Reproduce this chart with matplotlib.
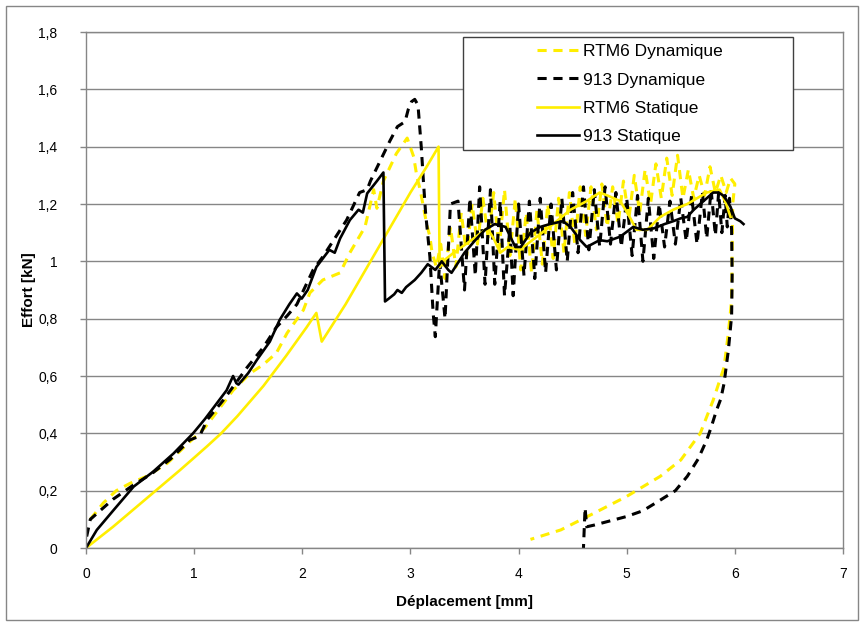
import matplotlib
matplotlib.use("Agg")
import matplotlib.pyplot as plt
from matplotlib.patches import Rectangle

# RTM6 Dynamique (yellow dashed): loading, plateau, unloading
rtm6_dyn_x = [0.04, 0.16, 0.28, 0.41, 0.56, 0.75, 0.93, 1.1, 1.36, 1.52, 1.64, 1.76, 1.86, 2.01, 2.07,
              2.19, 2.35, 2.44, 2.58, 2.66, 2.69, 2.75, 2.87, 2.97, 3.03, 3.06, 3.09, 3.15, 3.18,
              3.20, 3.24, 3.28, 3.32, 3.37, 3.42, 3.47, 3.52, 3.57, 3.62, 3.67, 3.72, 3.77, 3.82,
              3.87, 3.92, 3.97, 4.02, 4.07, 4.12, 4.17, 4.22, 4.27, 4.32, 4.37, 4.42, 4.47, 4.52,
              4.57, 4.62, 4.67, 4.72, 4.77, 4.82, 4.87, 4.92, 4.97, 5.02, 5.07, 5.12, 5.17, 5.22,
              5.27, 5.32, 5.37, 5.42, 5.47, 5.52, 5.57, 5.62, 5.67, 5.72, 5.77, 5.82, 5.87, 5.92,
              5.96, 6.0,
              5.98, 5.97, 5.94, 5.9, 5.8, 5.68, 5.5, 5.31, 5.0, 4.69, 4.39, 4.11]
rtm6_dyn_y = [0.10, 0.157, 0.2, 0.226, 0.25, 0.295, 0.36, 0.42, 0.55, 0.61, 0.64, 0.68, 0.75, 0.83, 0.89,
              0.935, 0.96, 1.03, 1.12, 1.25, 1.185, 1.28, 1.376, 1.43, 1.365, 1.295, 1.25, 1.13, 1.086,
              1.03, 0.98, 1.06, 0.94, 1.12, 0.98, 1.17, 1.02, 1.2, 1.06, 1.22, 1.08, 1.24, 1.04,
              1.25, 1.02, 1.22, 0.97, 1.17, 0.96, 1.18, 0.99, 1.2, 1.01, 1.22, 1.03, 1.24, 1.06,
              1.26, 1.09, 1.26, 1.11, 1.27, 1.12, 1.26, 1.13, 1.28, 1.15, 1.30, 1.17, 1.32, 1.20,
              1.34, 1.22, 1.36, 1.23, 1.37, 1.22, 1.32, 1.22, 1.30, 1.23, 1.33, 1.24, 1.30, 1.24,
              1.29, 1.27,
              1.2, 0.865, 0.75, 0.63, 0.516, 0.40, 0.307, 0.25, 0.18, 0.12, 0.063, 0.03]

# 913 Dynamique (black dashed)
d913_dyn_x = [0.006, 0.04, 0.25, 0.44, 0.61, 0.78, 0.96, 1.05, 1.12, 1.27, 1.49, 1.64, 1.76, 1.86, 1.95,
              2.1, 2.19, 2.29, 2.41, 2.53, 2.6, 2.63, 2.72, 2.81, 2.88, 2.95, 2.98, 3.01, 3.04, 3.07,
              3.1, 3.12, 3.14, 3.18, 3.21, 3.23,
              3.27, 3.32, 3.37, 3.44, 3.5, 3.55, 3.6, 3.64, 3.69, 3.74, 3.78, 3.83, 3.87, 3.92,
              3.95, 4.0, 4.05, 4.1, 4.15, 4.2, 4.25, 4.3, 4.35, 4.4, 4.45, 4.5, 4.55, 4.6, 4.65,
              4.7, 4.75, 4.8, 4.85, 4.9, 4.95, 5.0, 5.05, 5.1, 5.15, 5.2, 5.25, 5.3, 5.35, 5.4,
              5.45, 5.5, 5.55, 5.6, 5.65, 5.7, 5.74, 5.78, 5.82, 5.85, 5.88, 5.91, 5.93, 5.95, 5.97,
              5.975, 5.97, 5.94, 5.9, 5.87, 5.83, 5.78, 5.74, 5.66, 5.56, 5.45, 5.31, 5.15, 5.0,
              4.85, 4.7, 4.63, 4.615, 4.6]
d913_dyn_y = [0.04, 0.1, 0.17, 0.22, 0.26, 0.31, 0.377, 0.39, 0.447, 0.516, 0.63, 0.70, 0.77, 0.81, 0.85,
              0.97, 1.016, 1.074, 1.144, 1.24, 1.25, 1.28, 1.35, 1.42, 1.47, 1.487, 1.53, 1.557, 1.565, 1.545,
              1.4, 1.28, 1.17, 1.016, 0.82, 0.737,
              1.0, 0.80, 1.2, 1.21, 0.90, 1.22, 0.95, 1.26, 0.92, 1.25, 0.92, 1.21, 0.88, 1.12,
              0.88, 1.2, 0.95, 1.21, 0.94, 1.22, 0.96, 1.2, 0.97, 1.22, 1.0, 1.24, 1.03, 1.26, 1.04,
              1.25, 1.05, 1.26, 1.06, 1.24, 1.05, 1.22, 1.02, 1.23, 1.0, 1.22, 1.01, 1.2, 1.05, 1.21,
              1.06, 1.22, 1.07, 1.23, 1.06, 1.24, 1.08, 1.25, 1.09, 1.24, 1.1, 1.23, 1.12, 1.22, 1.11,
              0.95, 0.81, 0.69, 0.574, 0.52, 0.48, 0.42, 0.377, 0.31, 0.25, 0.2, 0.167, 0.13, 0.11,
              0.095, 0.08, 0.074, 0.14, 0.0]

# RTM6 Statique (yellow solid)
rtm6_sta_x = [0, 0.25, 0.56, 0.87, 1.0, 1.12, 1.25, 1.4, 1.64, 1.85, 2.04, 2.13, 2.18, 2.4, 2.6, 2.8, 3.0, 3.15, 3.26,
              3.27, 3.3, 3.4, 3.55, 3.71, 3.77, 3.83, 3.9, 4.01, 4.17, 4.32, 4.48, 4.63, 4.75, 4.82, 4.94,
              5.02, 5.09, 5.19, 5.31, 5.43, 5.56, 5.65, 5.74, 5.86, 5.92, 5.96]
rtm6_sta_y = [0, 0.074, 0.173, 0.272, 0.315, 0.355, 0.40, 0.46, 0.565, 0.67, 0.77, 0.82, 0.72, 0.85, 0.98, 1.11, 1.24, 1.33, 1.40,
              0.98, 1.0, 1.03, 1.07, 1.115, 1.08, 1.03, 1.05, 1.04, 1.086, 1.13, 1.18, 1.21, 1.24, 1.23, 1.21,
              1.16, 1.11, 1.11, 1.155, 1.18, 1.2, 1.22, 1.24, 1.25, 1.2, 1.155]

# 913 Statique (black solid)
d913_sta_x = [0, 0.1, 0.25, 0.44, 0.62, 0.81, 0.99, 1.1, 1.2, 1.3, 1.36, 1.39, 1.41, 1.5, 1.58, 1.7, 1.79,
              1.88, 1.95, 1.995, 2.05, 2.13, 2.25, 2.3, 2.35, 2.44, 2.52, 2.56, 2.6, 2.69, 2.75,
              2.765, 2.8, 2.85, 2.88, 2.92, 2.96, 3.04, 3.1, 3.16, 3.23, 3.29, 3.35, 3.38, 3.5, 3.6,
              3.69, 3.78, 3.88, 3.97, 4.02, 4.11, 4.2, 4.29, 4.41, 4.48, 4.57, 4.63, 4.75, 4.82, 4.94,
              5.06, 5.15, 5.25, 5.35, 5.43, 5.5, 5.56, 5.62, 5.68, 5.74, 5.8, 5.85, 5.89, 5.93, 5.96,
              6.0, 6.05, 6.08]
d913_sta_y = [0, 0.063, 0.13, 0.214, 0.266, 0.33, 0.40, 0.45, 0.5, 0.55, 0.60, 0.575, 0.57, 0.61, 0.656, 0.72, 0.795,
              0.85, 0.888, 0.87, 0.9, 0.98, 1.04, 1.03, 1.08, 1.144, 1.18, 1.17, 1.237, 1.28, 1.31,
              0.86, 0.87, 0.885, 0.9, 0.89, 0.91, 0.935, 0.96, 0.99, 0.97, 1.0, 0.97, 0.96, 1.03, 1.074,
              1.11, 1.13, 1.12, 1.05, 1.05, 1.1, 1.12, 1.13, 1.14, 1.12, 1.074, 1.05, 1.074, 1.07, 1.086,
              1.12, 1.11, 1.115, 1.13, 1.14, 1.15, 1.155, 1.18, 1.2, 1.22, 1.24, 1.24, 1.23, 1.21, 1.19,
              1.15, 1.14, 1.13]

labels = ["RTM6 Dynamique", "913 Dynamique", "RTM6 Statique", "913 Statique"]
x_ticks = [0, 1, 2, 3, 4, 5, 6, 7]
y_ticks = [0, 0.2, 0.4, 0.6, 0.8, 1.0, 1.2, 1.4, 1.6, 1.8]
y_ticklabels = ["0", "0,2", "0,4", "0,6", "0,8", "1", "1,2", "1,4", "1,6", "1,8"]

yellow = "#FFEE00"
grey = "#868686"
plt.rcParams["font.family"] = ["Liberation Sans", "DejaVu Sans"]

fig = plt.figure(figsize=(8.64, 6.24), dpi=100)
ax = fig.add_axes([86 / 864, 1 - 548 / 624, 757 / 864, 516 / 624])

ax.plot(rtm6_dyn_x, rtm6_dyn_y, color=yellow, lw=2.2, dashes=(3.0, 2.2), label=labels[0])
ax.plot(d913_dyn_x, d913_dyn_y, color="black", lw=2.2, dashes=(3.0, 2.2), label=labels[1])
ax.plot(rtm6_sta_x, rtm6_sta_y, color=yellow, lw=1.9, label=labels[2])
ax.plot(d913_sta_x, d913_sta_y, color="black", lw=1.9, label=labels[3])

ax.set_xlim(0, 7)
ax.set_ylim(0, 1.8)
ax.set_xticks(x_ticks)
ax.set_yticks(y_ticks)
ax.set_yticklabels(y_ticklabels)
ax.tick_params(direction="out", length=4, width=1, color=grey, labelsize=10)
ax.tick_params(axis="x", pad=9.5)
ax.tick_params(axis="y", pad=16.5)
ax.yaxis.grid(True, color=grey, lw=1)
ax.set_axisbelow(True)
for s in ax.spines.values():
    s.set_color(grey)
    s.set_linewidth(1)

ax.set_xlabel("Déplacement [mm]", fontsize=11, fontweight="bold", labelpad=10)
ax.set_ylabel("Effort [kN]", fontsize=11, fontweight="bold", labelpad=1.5)

# legend box drawn separately so the handles can sit inside like the original
fig.patches.append(Rectangle((463 / 864, 1 - 150 / 624), 330 / 864, 113 / 624, transform=fig.transFigure,
                             facecolor="white", edgecolor="#404040", lw=1, zorder=5))
leg = fig.legend(loc="upper left", bbox_to_anchor=(537 / 864, 1 - 44 / 624), frameon=False,
                 fontsize=12.5, handlelength=2.4, handletextpad=0.25, labelspacing=0.76,
                 borderpad=0, borderaxespad=0)
leg.set_zorder(6)

fig.patches.append(Rectangle((6 / 864, 4 / 624), 852 / 864, 614 / 624, transform=fig.transFigure,
                             facecolor="none", edgecolor=grey, lw=1))

fig.savefig("out.png", dpi=100)
